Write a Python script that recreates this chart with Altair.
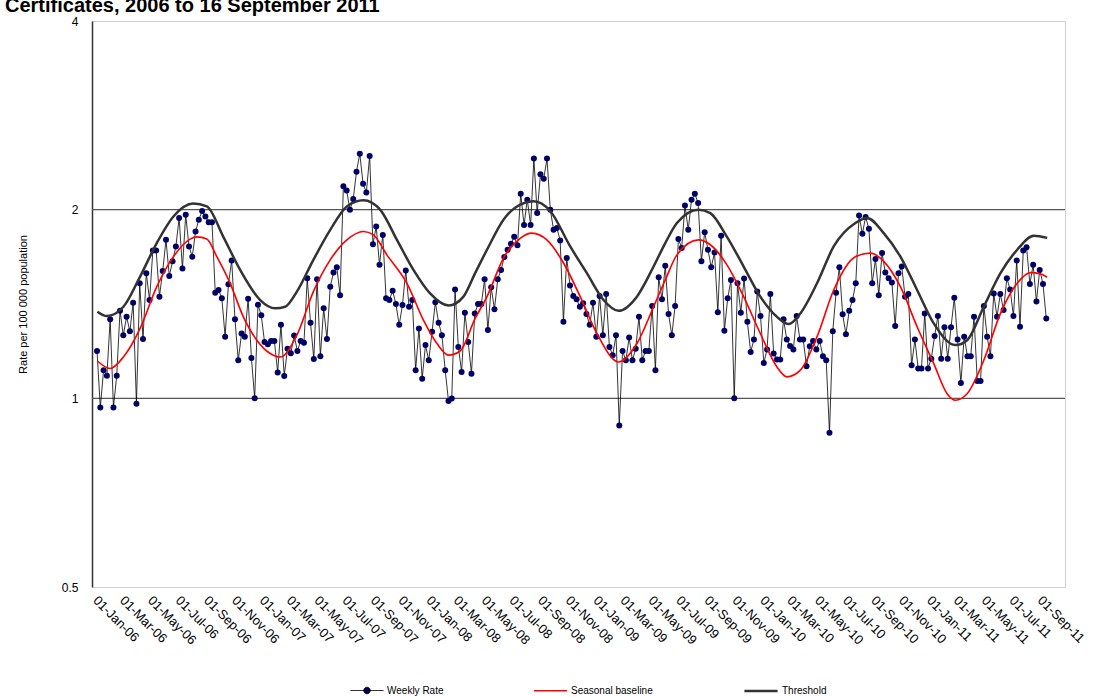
import altair as alt
import pandas as pd

# ---- data ----
weekly_rate = [
    1.19, 0.967, 1.109, 1.087, 1.337, 0.967, 1.087, 1.38, 1.261, 1.349,
    1.279, 1.421, 0.98, 1.526, 1.244, 1.584, 1.435, 1.722, 1.722, 1.453,
    1.596, 1.79, 1.568, 1.654, 1.747, 1.94, 1.611, 1.963, 1.747, 1.683,
    1.846, 1.928, 1.99, 1.95, 1.909, 1.909, 1.474, 1.489, 1.444, 1.254,
    1.52, 1.66, 1.337, 1.15, 1.269, 1.254, 1.442, 1.16, 1.0, 1.41,
    1.357, 1.23, 1.22, 1.235, 1.235, 1.10, 1.31,
    1.086, 1.2, 1.18, 1.26, 1.19, 1.235, 1.226, 1.554, 1.32, 1.155,
    1.549, 1.167, 1.392, 1.244, 1.507, 1.587, 1.619, 1.461, 2.18, 2.146,
    2.0, 2.08, 2.30, 2.456, 2.2, 2.13, 2.435, 1.762, 1.88, 1.633,
    1.823, 1.444, 1.435, 1.485, 1.414, 1.31, 1.409, 1.6, 1.4, 1.435,
    1.109, 1.293, 1.075, 1.216, 1.15, 1.277, 1.423, 1.32, 1.261, 1.109,
    0.99, 0.999, 1.492, 1.208, 1.102, 1.37, 1.23, 1.095, 1.366,
    1.414, 1.414, 1.549, 1.285, 1.504, 1.387, 1.549, 1.603, 1.68, 1.726,
    1.765, 1.81, 1.755, 2.12, 1.89, 2.075, 1.89, 2.413, 1.975, 2.277,
    2.24, 2.413, 2.0, 1.857, 1.87, 1.786, 1.325, 1.674, 1.513, 1.457,
    1.439, 1.4, 1.418, 1.363, 1.31, 1.421, 1.254, 1.457, 1.261, 1.467,
    1.208, 1.172, 1.261, 0.905, 1.19, 1.15, 1.25, 1.15, 1.2, 1.349,
    1.15, 1.19, 1.19, 1.404, 1.109, 1.56, 1.439, 1.627,
    1.363, 1.261, 1.404, 1.795, 1.738, 2.03, 1.857, 2.075, 2.12, 2.05,
    1.654, 1.84, 1.726, 1.619, 1.709, 1.372, 1.817, 1.282, 1.444, 1.545,
    1.0, 1.526, 1.37, 1.553, 1.325, 1.186, 1.241, 1.48, 1.353, 1.139,
    1.197, 1.467, 1.179, 1.153, 1.153, 1.337, 1.241, 1.212, 1.197, 1.353,
    1.241, 1.241, 1.125, 1.211, 1.235, 1.197, 1.235, 1.167, 1.15, 0.881,
    1.28, 1.474, 1.619, 1.362, 1.266, 1.379, 1.435,
    1.526, 1.958, 1.83, 1.947, 1.864, 1.526, 1.668, 1.461, 1.705, 1.587,
    1.554, 1.53, 1.304, 1.584, 1.623, 1.453, 1.467, 1.129, 1.241, 1.116,
    1.116, 1.366, 1.116, 1.157, 1.257, 1.353, 1.157, 1.298, 1.157, 1.298,
    1.447, 1.241, 1.058, 1.254, 1.167, 1.167, 1.349, 1.066, 1.066, 1.404,
    1.254, 1.167, 1.47, 1.349, 1.467, 1.383, 1.554, 1.492, 1.353, 1.66,
    1.301, 1.722, 1.742, 1.522, 1.633, 1.427, 1.603, 1.522, 1.341,
]
first_week = "2006-01-06"
last_week = "2011-09-16"

# seasonal baseline (years after 1 Jan 2006, rate)
baseline_t = [0.016, 0.092, 0.172, 0.272, 0.372, 0.472, 0.572, 0.612, 0.672, 0.732,
              0.812, 0.891, 0.972, 1.052, 1.112, 1.212, 1.311, 1.412, 1.512, 1.611,
              1.671, 1.752, 1.872, 1.971, 2.052, 2.121, 2.191, 2.281, 2.352, 2.451,
              2.551, 2.621, 2.711, 2.811, 2.911, 3.011, 3.141, 3.251, 3.351, 3.421,
              3.491, 3.621, 3.691, 3.791, 3.891, 3.991, 4.091, 4.151, 4.231, 4.331,
              4.431, 4.561, 4.651, 4.731, 4.831, 4.931, 5.031, 5.111, 5.161, 5.231,
              5.331, 5.431, 5.531, 5.611, 5.671, 5.711]
baseline_v = [1.147, 1.116, 1.164, 1.293, 1.507, 1.683, 1.795, 1.81, 1.795, 1.683,
              1.526, 1.349, 1.238, 1.179, 1.164, 1.261, 1.48, 1.663, 1.79, 1.846,
              1.823, 1.694, 1.526, 1.333, 1.223, 1.172, 1.19, 1.341, 1.453, 1.674,
              1.8, 1.835, 1.79, 1.644, 1.453, 1.269, 1.143, 1.223, 1.4, 1.545,
              1.694, 1.79, 1.758, 1.633, 1.453, 1.269, 1.122, 1.082, 1.109, 1.254,
              1.489, 1.683, 1.705, 1.654, 1.507, 1.301, 1.136, 1.017, 0.993, 1.017,
              1.15, 1.366, 1.526, 1.587, 1.58, 1.56]

threshold_t = [0.016, 0.072, 0.172, 0.272, 0.372, 0.472, 0.591, 0.672, 0.771, 0.872,
               0.992, 1.082, 1.142, 1.212, 1.311, 1.412, 1.512, 1.611, 1.711, 1.812,
               1.911, 2.011, 2.121, 2.211, 2.281, 2.352, 2.451, 2.551, 2.631, 2.731,
               2.851, 2.951, 3.051, 3.141, 3.251, 3.351, 3.421, 3.491, 3.621, 3.691,
               3.791, 3.891, 3.991, 4.091, 4.161, 4.231, 4.331, 4.431, 4.561, 4.631,
               4.731, 4.831, 4.931, 5.031, 5.161, 5.231, 5.331, 5.431, 5.531, 5.631,
               5.711]
threshold_v = [1.375, 1.353, 1.4, 1.564, 1.769, 1.95, 2.045, 2.024, 1.81, 1.603,
               1.435, 1.392, 1.4, 1.48, 1.663, 1.857, 2.024, 2.07, 2.0, 1.79,
               1.603, 1.47, 1.406, 1.453, 1.584, 1.726, 1.928, 2.037, 2.062, 1.99,
               1.747, 1.584, 1.435, 1.379, 1.453, 1.623, 1.769, 1.904, 2.0, 1.975,
               1.81, 1.623, 1.453, 1.349, 1.314, 1.366, 1.526, 1.747, 1.904, 1.94,
               1.835, 1.683, 1.489, 1.317, 1.216, 1.238, 1.4, 1.584, 1.726, 1.817,
               1.803]

series_names = ["Weekly Rate", "Seasonal baseline", "Threshold"]
series_colors = ["#000000", "#ff0000", "#333333"]
series_widths = [0.8, 2.5, 2.5]
legend_shapes = ["M-1,0H1M0.2,0A0.2,0.2,0,1,1,-0.2,0A0.2,0.2,0,1,1,0.2,0", "stroke", "stroke"]
legend_fills = ["#000066", "transparent", "transparent"]
y_ticks = [0.5, 1, 2, 4]
grid_values = [1, 2]
x_tick_months = pd.date_range("2006-01-01", "2011-09-01", freq="2MS")
title_text = "Certificates, 2006 to 16 September 2011"
y_title = "Rate per 100 000 population"

# ---- tables ----
def fmt(ts):
    return [t.strftime("%Y-%m-%dT%H:%M:%S") for t in ts]

origin = pd.Timestamp("2006-01-01")
weekly = pd.DataFrame({
    "date": fmt(pd.date_range(first_week, last_week, periods=len(weekly_rate)).round("h")),
    "value": weekly_rate,
    "series": "Weekly Rate",
})
base = pd.DataFrame({
    "date": fmt([origin + pd.Timedelta(days=t * 365.25) for t in baseline_t]),
    "value": baseline_v,
    "series": "Seasonal baseline",
})
thr = pd.DataFrame({
    "date": fmt([origin + pd.Timedelta(days=t * 365.25) for t in threshold_t]),
    "value": threshold_v,
    "series": "Threshold",
})
grid = pd.DataFrame({"value": grid_values})
ghost = pd.DataFrame({"date": pd.Series([], dtype=str), "value": pd.Series([], dtype=float),
                      "series": pd.Series([], dtype=str)})

x_enc = alt.X(
    "date:T",
    scale=alt.Scale(domain=[alt.DateTime(year=2005, month=12, date=26),
                            alt.DateTime(year=2011, month=10, date=27)]),
    axis=alt.Axis(
        values=[alt.DateTime(year=d.year, month=d.month, date=1) for d in x_tick_months],
        format="%d-%b-%y", labelAngle=45, labelAlign="left", labelBaseline="middle",
        labelPadding=11, labelFontSize=13, labelColor="#000000", labelOverlap=False,
        labelFlush=False, labelBound=False, labelSeparation=0, ticks=False, domain=False,
        grid=False, title=None,
    ),
)
y_scale = alt.Scale(type="log", base=2, domain=[0.5, 4])
y_enc = alt.Y(
    "value:Q", scale=y_scale,
    axis=alt.Axis(values=y_ticks, format="~g", grid=False, ticks=False,
                  domainColor="#333333", domainWidth=1.5, labelPadding=14,
                  labelFontSize=12, labelColor="#000000",
                  title=y_title, titleFontSize=11, titleFontWeight="normal",
                  titleColor="#000000", titlePadding=33),
)
legend = alt.Legend(
    title=None, orient="none", direction="horizontal", legendX=258, legendY=652,
    symbolType="stroke", symbolSize=1100, labelFontSize=10,
    labelColor="#000000", labelOffset=3, columnPadding=86, padding=0,
)
color_enc = alt.Color("series:N", scale=alt.Scale(domain=series_names, range=series_colors),
                      legend=legend)
width_enc = alt.StrokeWidth("series:N", scale=alt.Scale(domain=series_names, range=series_widths),
                            legend=legend)
shape_enc = alt.Shape("series:N", scale=alt.Scale(domain=series_names, range=legend_shapes),
                      legend=legend)
fill_enc = alt.Fill("series:N", scale=alt.Scale(domain=series_names, range=legend_fills),
                    legend=legend)

gridlines = alt.Chart(grid).mark_rule(color="#555555", strokeWidth=1.2).encode(
    y=alt.Y("value:Q", scale=y_scale)
)
rate_line = alt.Chart(weekly).mark_line().encode(
    x=x_enc, y=y_enc, color=color_enc, strokeWidth=width_enc
)
rate_pts = alt.Chart(weekly).mark_circle(size=36, color="#000066", opacity=1).encode(
    x=x_enc, y=y_enc
)
base_line = alt.Chart(base).mark_line(interpolate="monotone").encode(
    x=x_enc, y=y_enc, color=color_enc, strokeWidth=width_enc
)
thr_line = alt.Chart(thr).mark_line(interpolate="monotone").encode(
    x=x_enc, y=y_enc, color=color_enc, strokeWidth=width_enc
)
legend_ghost = alt.Chart(ghost).mark_point(filled=True, opacity=1).encode(
    x=x_enc, y=y_enc, color=color_enc, strokeWidth=width_enc, shape=shape_enc, fill=fill_enc
)

chart = alt.layer(gridlines, rate_line, rate_pts, base_line, thr_line, legend_ghost).properties(
    width=973, height=566,
    padding={"left": 92, "top": 21, "right": 38, "bottom": 110},
    autosize="none",
    title=alt.Title(title_text, anchor="start", frame="group", fontSize=20,
                    fontWeight="bold", dx=-87, dy=19, offset=2, baseline="alphabetic",
                    color="#000000"),
).configure(
    font="Liberation Sans",
).configure_view(
    stroke="#d0d0d0", strokeWidth=1,
)

chart.save("out.html", embed_options={"renderer": "svg", "actions": False})
